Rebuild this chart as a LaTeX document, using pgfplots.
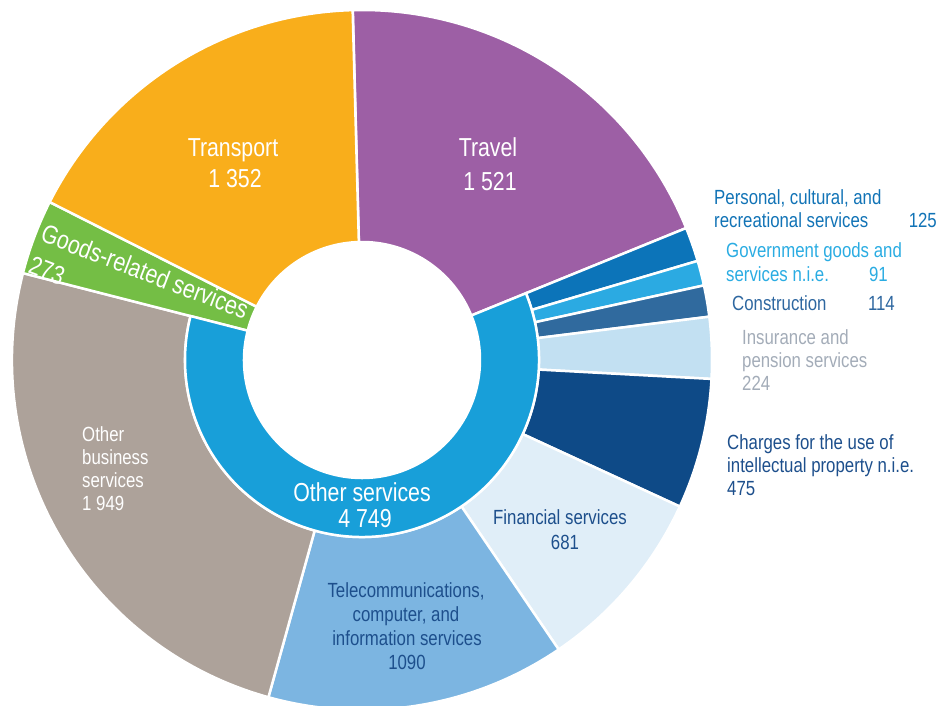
\documentclass[border=0pt]{standalone}
\usepackage{pgfplots}
\pgfplotsset{compat=1.18}
\usepackage{pgfplotstable}
\usepackage{fontspec}
\setmainfont{Liberation Sans}[FakeStretch=0.82]
\definecolor{cTravel}{HTML}{9D5FA5}
\definecolor{cTrans}{HTML}{F9AE1B}
\definecolor{cGoods}{HTML}{74BE45}
\definecolor{cOB}{HTML}{ADA29A}
\definecolor{cTel}{HTML}{7CB5E1}
\definecolor{cFin}{HTML}{E0EEF8}
\definecolor{cChg}{HTML}{0E4A87}
\definecolor{cIns}{HTML}{C2E0F2}
\definecolor{cCons}{HTML}{306A9E}
\definecolor{cGov}{HTML}{2BAAE2}
\definecolor{cPers}{HTML}{0C74B9}
\definecolor{cRing}{HTML}{189FD9}
\definecolor{tDark}{HTML}{1D4F8C}
\definecolor{tGray}{HTML}{A3ACB8}
\definecolor{tPers}{HTML}{1173B6}
\definecolor{tGov}{HTML}{2AACE2}
\definecolor{tCons}{HTML}{2E67A0}

% value, inner radius, colour (clockwise from the top)
\pgfplotstableread{
value rin col
1521 118 cTravel
125 177 cPers
91 177 cGov
114 177 cCons
224 177 cIns
475 177 cChg
681 177 cFin
1090 177 cTel
1949 177 cOB
273 118 cGoods
1352 118 cTrans
}\slices

\newcommand\sm{\fontsize{20.5bp}{24bp}\selectfont}
\newcommand\bg{\fontsize{26bp}{30bp}\selectfont}

\begin{document}
\begin{tikzpicture}
\begin{axis}[
  x=1bp, y=1bp, xmin=0, xmax=941, ymin=0, ymax=706,
  hide axis, clip=false, scale only axis,
]
\def\total{0}
\pgfplotsforeachungrouped \i in {0,...,10}{%
  \pgfplotstablegetelem{\i}{value}\of\slices
  \pgfmathsetmacro\total{\total+\pgfplotsretval}%
  \global\let\total\total
}
\gdef\aA{91.5}
\pgfplotsforeachungrouped \i in {0,...,10}{%
  \pgfplotstablegetelem{\i}{value}\of\slices \let\v\pgfplotsretval
  \pgfplotstablegetelem{\i}{rin}\of\slices \let\ri\pgfplotsretval
  \pgfplotstablegetelem{\i}{col}\of\slices \let\cc\pgfplotsretval
  \pgfmathsetmacro\aB{\aA-(\v/\total)*360}%
  \edef\temp{\noexpand\fill[fill=\cc,draw=white,line width=2.5bp]
    ([shift={(\aA:350bp)}]axis cs:362,346) arc[start angle=\aA,end angle=\aB,radius=350bp]
    -- ([shift={(\aB:\ri bp)}]axis cs:362,346) arc[start angle=\aB,end angle=\aA,radius=\ri bp] -- cycle;}%
  \temp
  \ifnum\i=0 \global\let\ringA\aB\fi
  \ifnum\i=8 \global\let\ringB\aB\fi
  \global\let\aA\aB
}
\edef\temp{\noexpand\fill[fill=cRing,draw=white,line width=2.5bp]
  ([shift={(\ringA:177bp)}]axis cs:362,346) arc[start angle=\ringA,end angle=\ringB,radius=177bp]
  -- ([shift={(\ringB:118bp)}]axis cs:362,346) arc[start angle=\ringB,end angle=\ringA,radius=118bp] -- cycle;}
\temp

% labels
\begin{scope}[every node/.style={inner sep=0pt, anchor=base}]
\node[white,font=\bg] at (axis cs:233,549) {Transport};
\node[white,font=\bg] at (axis cs:235,518) {1 352};
\node[white,font=\bg] at (axis cs:488,549) {Travel};
\node[white,font=\bg] at (axis cs:490,515) {1 521};
\node[white,font={\fontsize{26bp}{34bp}\selectfont},anchor=north west,rotate=-21,align=left]
  at (axis cs:46,483) {Goods-related services\\273};
\node[white,font=\bg] at (axis cs:362,204) {Other services};
\node[white,font=\bg] at (axis cs:365,178) {4 749};
\node[white,font=\sm,anchor=base west] at (axis cs:82,264) {Other};
\node[white,font=\sm,anchor=base west] at (axis cs:82,241) {business};
\node[white,font=\sm,anchor=base west] at (axis cs:82,218) {services};
\node[white,font=\sm,anchor=base west] at (axis cs:82,195) {1 949};
\node[tDark,font=\sm] at (axis cs:406,108) {Telecommunications,};
\node[tDark,font=\sm] at (axis cs:406,84) {computer, and};
\node[tDark,font=\sm] at (axis cs:407,60) {information services};
\node[tDark,font=\sm] at (axis cs:407,36) {1090};
\node[tDark,font=\sm] at (axis cs:560,181) {Financial services};
\node[tDark,font=\sm] at (axis cs:565,156) {681};
\node[tDark,font=\sm,anchor=base west] at (axis cs:727,256) {Charges for the use of};
\node[tDark,font=\sm,anchor=base west] at (axis cs:727,233) {intellectual property n.i.e.};
\node[tDark,font=\sm,anchor=base west] at (axis cs:727,210) {475};
\node[tGray,font=\sm,anchor=base west] at (axis cs:742,361) {Insurance and};
\node[tGray,font=\sm,anchor=base west] at (axis cs:742,338) {pension services};
\node[tGray,font=\sm,anchor=base west] at (axis cs:742,315) {224};
\node[tCons,font=\sm,anchor=base west] at (axis cs:732,395) {Construction};
\node[tCons,font=\sm,anchor=base east] at (axis cs:895,395) {114};
\node[tGov,font=\sm,anchor=base west] at (axis cs:726,448) {Government goods and};
\node[tGov,font=\sm,anchor=base west] at (axis cs:726,424) {services n.i.e.};
\node[tGov,font=\sm,anchor=base east] at (axis cs:888,424) {91};
\node[tPers,font=\sm,anchor=base west] at (axis cs:714,501) {Personal, cultural, and};
\node[tPers,font=\sm,anchor=base west] at (axis cs:714,478) {recreational services};
\node[tPers,font=\sm,anchor=base east] at (axis cs:937,478) {125};
\end{scope}
\end{axis}
\pgfresetboundingbox
\path[use as bounding box] (current axis.south west) rectangle (current axis.north east);
\end{tikzpicture}
\end{document}
